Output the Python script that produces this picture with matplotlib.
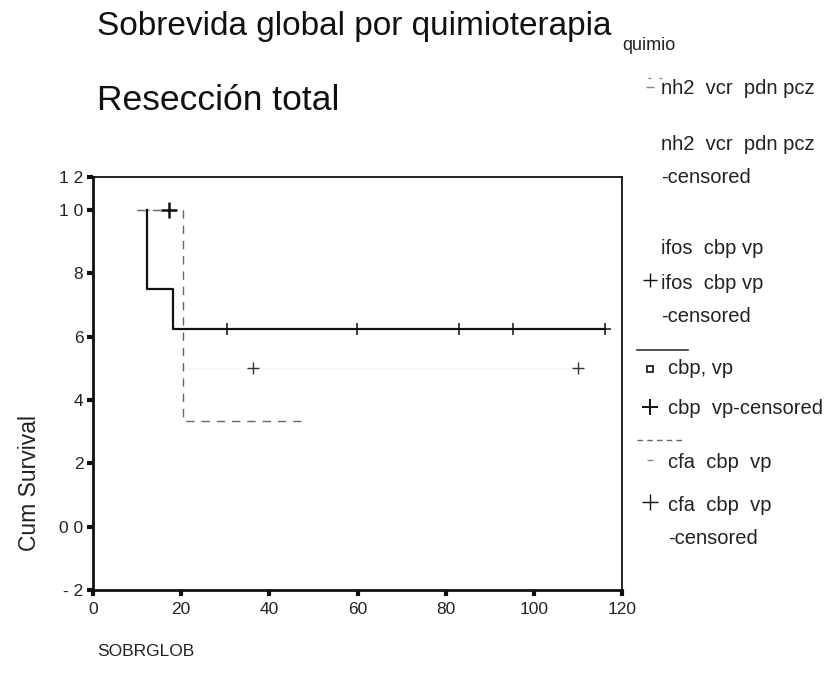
#!/usr/bin/env python3

"""
Kaplan-Meier style chart: Sobrevida global por quimioterapia, resección total.
"""

import matplotlib

matplotlib.use("Agg")
import matplotlib.pyplot as plt
import numpy as np
from matplotlib import ticker
from matplotlib.lines import Line2D

plt.rcParams["font.family"] = ["Liberation Sans", "DejaVu Sans"]

# Step curves (time in months, cumulative survival).
cbp_times = [12.2, 12.2, 18.1, 116.1]
cbp_surv = [1.0, 0.75, 0.625, 0.625]
cbp_cens_times = [30.3, 59.8, 83.0, 95.3, 116.1]
cbp_cens_surv = [0.625, 0.625, 0.625, 0.625, 0.625]

cfa_times = [10.0, 20.4, 47.3]
cfa_surv = [1.0, 0.333, 0.333]
cfa_cens_times = [17.3]
cfa_cens_surv = [1.0]

ifos_times = [20.3, 110.0]
ifos_surv = [0.5, 0.5]
ifos_cens_times = [36.2, 110.0]
ifos_cens_surv = [0.5, 0.5]

nh2_times = [10.0, 14.0]
nh2_surv = [1.0, 1.0]

x_ticks = [0, 20, 40, 60, 80, 100, 120]
y_ticks = [-0.2, 0.0, 0.2, 0.4, 0.6, 0.8, 1.0, 1.2]
y_tick_labels = ["- 2", "0 0", "2", "4", "6", "8", "1 0", "1 2"]

legend_title = "quimio"
legend_labels = [
    "nh2  vcr  pdn pcz",
    "nh2  vcr  pdn pcz\n-censored",
    "ifos  cbp vp",
    "ifos  cbp vp\n-censored",
    "cbp, vp",
    "cbp  vp-censored",
    "cfa  cbp  vp",
    "cfa  cbp  vp\n-censored",
]

W, H = 837, 688


def fx(px):
    return px / W


def fy(py):
    return 1 - py / H


# The scanned axis is squeezed above 1.0.
TOP_SQUEEZE = 0.52


def forward(v):
    v = np.asarray(v, dtype=float)
    return np.where(v <= 1.0, v, 1.0 + (v - 1.0) * TOP_SQUEEZE)


def inverse(u):
    u = np.asarray(u, dtype=float)
    return np.where(u <= 1.0, u, 1.0 + (u - 1.0) / TOP_SQUEEZE)


fig = plt.figure(figsize=(W / 100, H / 100), dpi=100)
ax = fig.add_axes([fx(93), fy(590), fx(622) - fx(93), fy(177) - fy(590)])
ax.set_yscale("function", functions=(forward, inverse))

ink = "#111111"
ax.step(nh2_times, nh2_surv, where="post", color="#999999", lw=0.9, ls=(0, (3, 4)))
ax.step(ifos_times, ifos_surv, where="post", color="#f8f8f8", lw=0.8)
ax.step(cfa_times, cfa_surv, where="post", color="#666666", lw=1.0, ls=(0, (6, 5)))
ax.step(cbp_times, cbp_surv, where="post", color=ink, lw=1.6)

ax.plot(cbp_cens_times, cbp_cens_surv, "+", color=ink, ms=9, mew=1.1)
ax.plot(cfa_cens_times, cfa_cens_surv, "+", color=ink, ms=12, mew=1.8)
ax.plot(ifos_cens_times, ifos_cens_surv, "+", color="#333333", ms=9, mew=1.0)

ax.set_xlim(0, 120)
ax.set_ylim(-0.2, 1.2)
ax.xaxis.set_major_locator(ticker.FixedLocator(x_ticks))
ax.yaxis.set_major_locator(ticker.FixedLocator(y_ticks))
ax.yaxis.set_major_formatter(ticker.FixedFormatter(y_tick_labels))
ax.yaxis.set_minor_locator(ticker.NullLocator())
ax.tick_params(axis="both", direction="out", length=4, width=3, color=ink,
               labelsize=12.5, labelcolor="#222222")
ax.tick_params(axis="y", pad=3)
ax.tick_params(axis="x", pad=5)

for side in ["left", "bottom"]:
    ax.spines[side].set_linewidth(2.0)
    ax.spines[side].set_color(ink)
for side in ["top", "right"]:
    ax.spines[side].set_linewidth(1.3)
    ax.spines[side].set_color(ink)

# Titles and axis labels
fig.text(fx(97), fy(27), "Sobrevida global por quimioterapia", fontsize=24,
         va="center", ha="left", color="#111111")
fig.text(fx(97), fy(100), "Resección total", fontsize=25.5,
         va="center", ha="left", color="#111111")
fig.text(fx(30), fy(483), "Cum Survival", fontsize=16.5, rotation=90,
         va="center", ha="center", color="#222222")
fig.text(fx(97), fy(652), "SOBRGLOB", fontsize=12.5, va="center", ha="left",
         color="#222222")

# Legend, laid out like the SPSS output
fig.text(fx(622), fy(45), legend_title, fontsize=13, va="center", ha="left",
         color="#222222")
label_pos = [(661, 88), (661, 161), (661, 248), (661, 300),
             (668, 369), (668, 409), (668, 462), (668, 522)]
for (px, py), label in zip(label_pos, legend_labels):
    fig.text(fx(px), fy(py), label, fontsize=14.5, va="center", ha="left",
             color="#222222", linespacing=1.9)

handles = [
    Line2D([fx(648), fx(662)], [fy(78), fy(78)], color="#888888", lw=1, ls=(0, (2, 6))),
    Line2D([fx(650)], [fy(87)], marker="_", color="#888888", ms=6),
    Line2D([fx(650)], [fy(280)], marker="+", color=ink, ms=10, mew=1.0),
    Line2D([fx(637), fx(688)], [fy(350), fy(350)], color="#333333", lw=1.2),
    Line2D([fx(650)], [fy(369)], marker="s", color=ink, mfc="white", ms=5, mew=1.2),
    Line2D([fx(650)], [fy(407)], marker="+", color=ink, ms=11, mew=1.4),
    Line2D([fx(637), fx(682)], [fy(440), fy(440)], color="#666666", lw=1,
           ls=(0, (4, 3))),
    Line2D([fx(650)], [fy(460)], marker="_", color="#888888", ms=5),
    Line2D([fx(650)], [fy(502)], marker="+", color=ink, ms=11, mew=1.0),
]
for h in handles:
    h.set_transform(fig.transFigure)
    fig.add_artist(h)

fig.savefig("out.png", dpi=100)
plt.close(fig)
